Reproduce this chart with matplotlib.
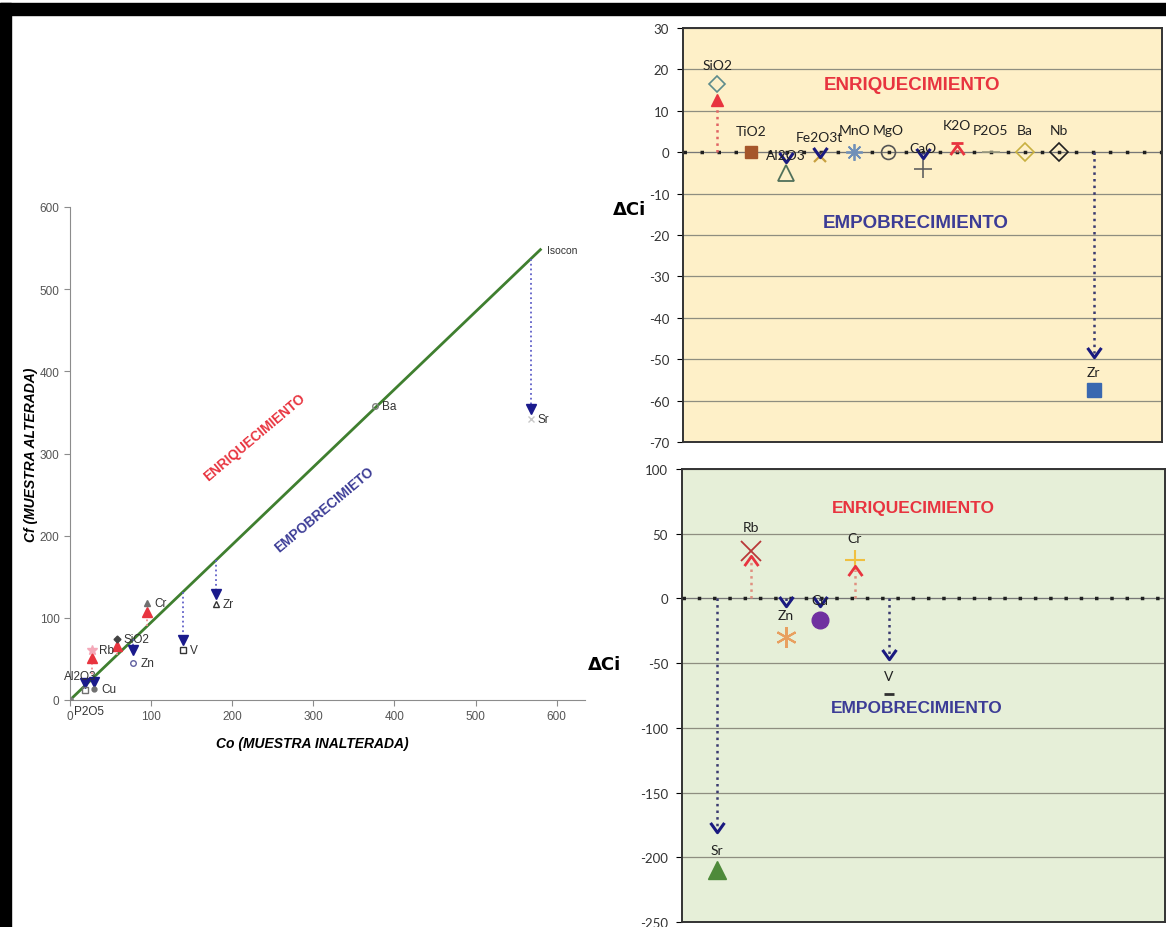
import numpy as np
import matplotlib.pyplot as plt
from matplotlib.path import Path
from matplotlib.patches import Rectangle

plt.rcParams['axes.unicode_minus'] = False
nan = np.nan

# diagrama isocon (izquierda): Co = muestra inalterada, Cf = muestra alterada
elementos = ['Sr', 'Ba', 'Zr', 'V', 'Cr', 'Zn', 'SiO2', 'Rb', 'Cu', 'Al2O3', 'P2O5']
co = [568, 376, 180, 139, 95, 78, 58, 27, 30, 18, 0]
cf = [342, 358, 117, 61, 118, 45, 74, 61, 13, 12, 0]
cf_flecha = [354, nan, 129, 73, 107, 61, 66, 51, 22, 21, nan]
pendiente_isocon = 0.945
co_isocon_max = 580

# ΔCi elementos mayores (arriba derecha)
mayores = ['SiO2', 'TiO2', 'Al2O3', 'Fe2O3t', 'MnO', 'MgO', 'CaO', 'K2O', 'P2O5', 'Ba', 'Nb', 'Zr']
dci_mayores = [16.5, 0, -5, -1, 0, 0, -4, 2.2, 0, 0, 0, -57.5]
flecha_mayores = [12.5, nan, -1.5, -0.2, nan, nan, -0.5, 0.8, nan, nan, nan, -48.5]

# ΔCi elementos traza (abajo derecha)
traza = ['Sr', 'Rb', 'Zn', 'Cu', 'Cr', 'V']
dci_traza = [-210, 37, -30, -17, 30, -74]
flecha_traza = [-177, 30, -3, -3, 22, -44]

ROJO = '#E8343F'
AZUL = '#3C3C96'
NAVY = '#1A1A80'

W, H = 1166, 928
fig = plt.figure(figsize=(W / 100, H / 100), dpi=100)

# marco negro
fig.add_artist(Rectangle((0, 1 - 16 / H), 1, 12 / H, transform=fig.transFigure, color='black', zorder=10))
fig.add_artist(Rectangle((0, 0), 11 / W, 1 - 4 / H, transform=fig.transFigure, color='black', zorder=10))

v_abajo = Path([(-1, 0.8), (0, -0.6), (1, 0.8)], [Path.MOVETO, Path.LINETO, Path.LINETO])
v_arriba = Path([(-1, -0.8), (0, 0.6), (1, -0.8)], [Path.MOVETO, Path.LINETO, Path.LINETO])

# ---------------- isocon ----------------
ax = fig.add_axes([70 / W, 227 / H, 515 / W, 493 / H])
ax.set_xlim(0, 635)
ax.set_ylim(0, 600)
ax.set_xticks(range(0, 601, 100))
ax.set_yticks(range(0, 601, 100))
for s in ['top', 'right']:
    ax.spines[s].set_visible(False)
for s in ['left', 'bottom']:
    ax.spines[s].set_color('#8C8C8C')
ax.tick_params(labelsize=8.5, colors='#8C8C8C', labelcolor='#555555', length=4)
for t in ax.get_xticklabels() + ax.get_yticklabels():
    t.set_family('Liberation Sans')

ax.plot([0, co_isocon_max], [0, pendiente_isocon * co_isocon_max], color='#3F7F2F', lw=2)
ax.text(co_isocon_max + 8, pendiente_isocon * co_isocon_max, 'Isocon', fontsize=7.5,
        family='Liberation Sans', va='center', color='#333333')

estilo_iso = {
    'Sr': dict(marker='x', color='#C8C8C8', ms=4),
    'Ba': dict(marker='o', mfc='none', mec='#808080', ms=4),
    'Zr': dict(marker='^', mfc='none', mec='#333333', ms=4),
    'V': dict(marker='s', mfc='none', mec='#333333', ms=4),
    'Cr': dict(marker='^', mfc='#707070', mec='#707070', ms=4),
    'Zn': dict(marker='o', mfc='none', mec='#6060A0', ms=4),
    'SiO2': dict(marker='D', mfc='#444444', mec='#444444', ms=3.5),
    'Rb': dict(marker='*', mfc='#F4A8B8', mec='#F4A8B8', ms=7),
    'Cu': dict(marker='o', mfc='#707070', mec='#707070', ms=3.5),
    'Al2O3': dict(marker='s', mfc='none', mec='#707070', ms=4),
    'P2O5': dict(marker='o', mfc='#808080', mec='#808080', ms=4),
}
for el, x, y, fl in zip(elementos, co, cf, cf_flecha):
    iso = pendiente_isocon * x
    if not np.isnan(fl):
        if y > iso:
            col, mk, lc = ROJO, '^', '#F08A90'
        else:
            col, mk, lc = '#1A1A8C', 'v', '#6060C8'
        ax.plot([x, x], [iso, fl], ls=':', color=lc, lw=1.3, zorder=2)
        ax.plot(x, fl, marker=mk, color=col, ms=7, ls='none', zorder=3)
    ax.plot(x, y, ls='none', zorder=4, **estilo_iso[el])

    if el == 'Al2O3':
        off, ha = (-15, 10), 'left'
    elif el == 'P2O5':
        off, ha = (3, -8), 'left'
    else:
        off, ha = (5, 0), 'left'
    ax.annotate(el, (x, y), xytext=off, textcoords='offset points', fontsize=8.5,
                family='Liberation Sans', va='center', ha=ha, color='#333333')

ax.text(228, 321, 'ENRIQUECIMIENTO', rotation=40, color=ROJO, fontsize=9.8, fontweight='bold',
        family='Liberation Sans', ha='center', va='center')
ax.text(314, 232, 'EMPOBRECIMIETO', rotation=40, color=AZUL, fontsize=9.8, fontweight='bold',
        family='Liberation Sans', ha='center', va='center')
ax.set_xlabel('Co (MUESTRA INALTERADA)', fontsize=10, fontweight='bold', style='italic',
              family='Liberation Sans', labelpad=10, x=0.47)
ax.set_ylabel('Cf (MUESTRA ALTERADA)', fontsize=10, fontweight='bold', style='italic',
              family='Liberation Sans', labelpad=1)

fig.text(630 / W, 1 - 210 / H, 'ΔCi', fontsize=13, fontweight='bold', ha='center', va='center')
fig.text(605 / W, 1 - 665 / H, 'ΔCi', fontsize=13, fontweight='bold', ha='center', va='center')


def panel(axp, fondo, lim, paso, sep):
    axp.set_facecolor(fondo)
    axp.set_xlim(0, 14)
    axp.set_ylim(*lim)
    axp.set_yticks(range(lim[0], lim[1] + 1, paso))
    axp.set_xticks([])
    axp.grid(axis='y', color='#8E8E80', lw=0.9)
    axp.set_axisbelow(True)
    for s in axp.spines.values():
        s.set_color('#333333')
        s.set_linewidth(1.4)
    axp.tick_params(axis='y', labelsize=9.5, length=4, pad=6, labelcolor='#333333')
    for t in axp.get_yticklabels():
        t.set_family('Lato')
    axp.axhline(0, color='#777777', lw=0.8, zorder=1)
    axp.axhline(0, color='#202020', lw=2.5, ls=(0, (1, sep)), zorder=1)


def flechas(axp, xs, vals, heads, rojo_linea, azul_linea, rellenas=()):
    for x, v, h in zip(xs, vals, heads):
        if np.isnan(h):
            continue
        if h > 0:
            axp.plot([x, x], [0, h], ls=':', color=rojo_linea, lw=1.8, zorder=2)
            if x in rellenas:
                axp.plot(x, h, marker='^', ms=9, color=ROJO, ls='none', zorder=4)
            else:
                axp.plot(x, h, marker=v_arriba, ms=10, mfc='none', mec=ROJO, mew=2, ls='none', zorder=4)
        else:
            axp.plot([x, x], [0, h], ls=':', color=azul_linea, lw=1.8, zorder=2)
            axp.plot(x, h, marker=v_abajo, ms=10, mfc='none', mec=NAVY, mew=2.2, ls='none', zorder=4)


# ---------------- mayores ----------------
ax2 = fig.add_axes([683 / W, 485 / H, 479 / W, 414 / H])
panel(ax2, '#FEF0C8', (-70, 30), 10, 3.9)
xm = np.arange(1, len(mayores) + 1)
estilo_mayores = [
    dict(marker='D', mfc='none', mec='#5E8C8C', ms=8, mew=1.2),
    dict(marker='s', mfc='#A5562A', mec='#A5562A', ms=9),
    dict(marker='^', mfc='none', mec='#50705A', ms=12, mew=1.3),
    dict(marker='x', mec='#C8A040', ms=9, mew=1.6),
    dict(marker=(8, 2, 0), mec='#7090B8', ms=12, mew=1.3),
    dict(marker='o', mfc='none', mec='#555555', ms=10, mew=1.2),
    dict(marker='+', mec='#606060', ms=13, mew=1.2),
    dict(marker='_', mec=ROJO, ms=8, mew=2),
    dict(marker='_', mec='#9A9A80', ms=13, mew=1.2),
    dict(marker='D', mfc='none', mec='#C8B040', ms=9, mew=1.2),
    dict(marker='D', mfc='none', mec='#202020', ms=9, mew=1.2),
    dict(marker='s', mfc='#3A68B0', mec='#3A68B0', ms=10),
]
etiqueta_y_mayores = [21, 5, -0.7, 3.7, 5.3, 5.3, 1, 6.5, 5.3, 5.3, 5.3, -53]
flechas(ax2, xm, dci_mayores, flecha_mayores, '#E06464', '#3A3A70', rellenas=(xm[0],))
for x, v, nom, est, ly in zip(xm, dci_mayores, mayores, estilo_mayores, etiqueta_y_mayores):
    ax2.plot(x, v, ls='none', zorder=3, **est)
    ax2.text(x, ly, nom, fontsize=10, family='Lato', ha='center', va='center', color='#222222', zorder=5)
ax2.text(6.7, 16.4, 'ENRIQUECIMIENTO', color=ROJO, fontsize=13.5, fontweight='bold',
         family='Liberation Sans', ha='center', va='center')
ax2.text(6.8, -17.1, 'EMPOBRECIMIENTO', color=AZUL, fontsize=13.5, fontweight='bold',
         family='Liberation Sans', ha='center', va='center')

# ---------------- traza ----------------
ax3 = fig.add_axes([682 / W, 5 / H, 483 / W, 453 / H])
panel(ax3, '#E6EFD8', (-250, 100), 50, 3.4)
xt = np.arange(1, len(traza) + 1)
estilo_traza = [
    dict(marker='^', mfc='#4E8A3A', mec='#4E8A3A', ms=13),
    dict(marker='x', mec='#B83838', ms=14, mew=1.3),
    dict(marker=(6, 2, 0), mec='#E8A060', ms=15, mew=1.5),
    dict(marker='o', mfc='#7030A0', mec='#7030A0', ms=12),
    dict(marker='+', mec='#F0C040', ms=14, mew=1.5),
    dict(marker='_', mec='#303030', ms=7, mew=2),
]
etiqueta_y_traza = [-194, 55, -13, -1, 47, -60]
flechas(ax3, xt, dci_traza, flecha_traza, '#E09080', '#3A3A70')
for x, v, nom, est, ly in zip(xt, dci_traza, traza, estilo_traza, etiqueta_y_traza):
    ax3.plot(x, v, ls='none', zorder=3, **est)
    ax3.text(x, ly, nom, fontsize=10, family='Lato', ha='center', va='center', color='#222222', zorder=5)
ax3.text(6.7, 70, 'ENRIQUECIMIENTO', color=ROJO, fontsize=12.5, fontweight='bold',
         family='Liberation Sans', ha='center', va='center')
ax3.text(6.8, -84, 'EMPOBRECIMIENTO', color=AZUL, fontsize=12.5, fontweight='bold',
         family='Liberation Sans', ha='center', va='center')

fig.savefig('out.png', dpi=100)
